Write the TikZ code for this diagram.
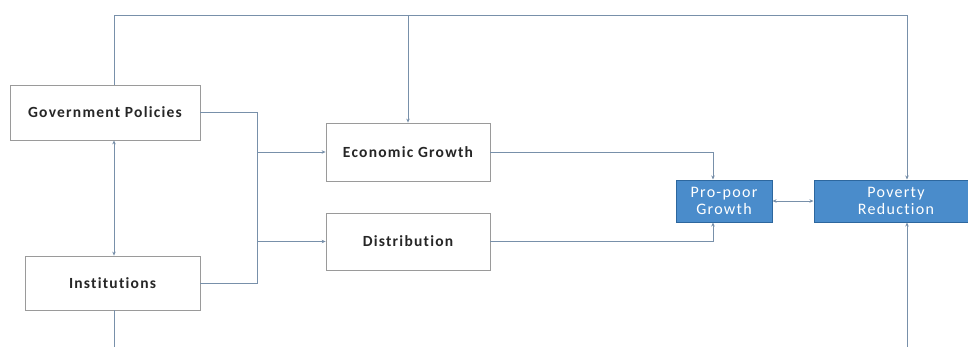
\documentclass[tikz,border=0pt]{standalone}
\usepackage{fontspec}
\setmainfont{Carlito}
\newfontfamily\spacedfont[LetterSpace=8,Ligatures=NoCommon]{Carlito}
\usetikzlibrary{arrows.meta}
\definecolor{lnc}{HTML}{7890AA}
\definecolor{bxb}{HTML}{9A9A9A}
\definecolor{bluef}{HTML}{4A8CCB}
\definecolor{blued}{HTML}{2D679E}
\tikzset{
  wbox/.style={draw=bxb, line width=0.8pt, fill=white, inner sep=0pt, font=\spacedfont\fontsize{15.5}{18}\selectfont\bfseries, text=black!85},
  bbox/.style={draw=blued, line width=1pt, fill=bluef, inner sep=0pt, align=center, font=\spacedfont\fontsize{16}{17}\selectfont, text=white},
  conn/.style={draw=lnc, line width=0.9pt},
  arr/.style={conn, -{Stealth[length=4pt,width=3.5pt]}},
  darr/.style={conn, {Stealth[length=4pt,width=3.5pt]}-{Stealth[length=4pt,width=3.5pt]}}
}
\begin{document}
\begin{tikzpicture}[x=1pt,y=-1pt]
\useasboundingbox (0,0) rectangle (968,346);
\clip (0,0) rectangle (968,346);
\fill[white] (0,0) rectangle (968,346);
\node[wbox, minimum width=190pt, minimum height=55pt] (gov) at (105,112.5) {Government Policies};
\node[wbox, minimum width=175pt, minimum height=54pt] (inst) at (112.5,283) {Institutions};
\node[wbox, minimum width=164pt, minimum height=58pt] (eg) at (408,152) {Economic Growth};
\node[wbox, minimum width=164pt, minimum height=57pt] (dist) at (408,241.5) {Distribution};
\node[bbox, minimum width=96pt, minimum height=42pt] (pp) at (724,201) {Pro-poor\\Growth};
\node[bbox, minimum width=164pt, minimum height=42pt] (pr) at (896,201) {Poverty\\Reduction};
\coordinate (topL) at (114,15);
\coordinate (topR) at (907,15);
\coordinate (botL) at (114,360);
\coordinate (botR) at (907,360);
\coordinate (jT) at (257,112.5);
\coordinate (jB) at (257,283);
\coordinate (ppx) at (713,0);
% top loop
\draw[conn] (topL |- gov.north) -- (topL) -- (topR);
\draw[arr] (topR) -- (topR |- pr.north);
\draw[arr] (eg.north |- topL) -- (eg.north);
% bottom loop
\draw[conn] (botL |- inst.south) -- (botL) -- (botR);
\draw[arr] (botR) -- (botR |- pr.south);
% gov <-> inst
\draw[darr] (topL |- gov.south) -- (topL |- inst.north);
% merge
\draw[conn] (gov.east) -- (jT) -- (jB) -- (inst.east);
\draw[arr] (jT |- eg.west) -- (eg.west);
\draw[arr] (jT |- dist.west) -- (dist.west);
% to pro-poor
\draw[arr] (eg.east) -| (ppx |- pp.north);
\draw[arr] (dist.east) -| (ppx |- pp.south);
% pp <-> pr
\draw[darr] (pr.west) -- (pp.east);
\end{tikzpicture}
\end{document}
